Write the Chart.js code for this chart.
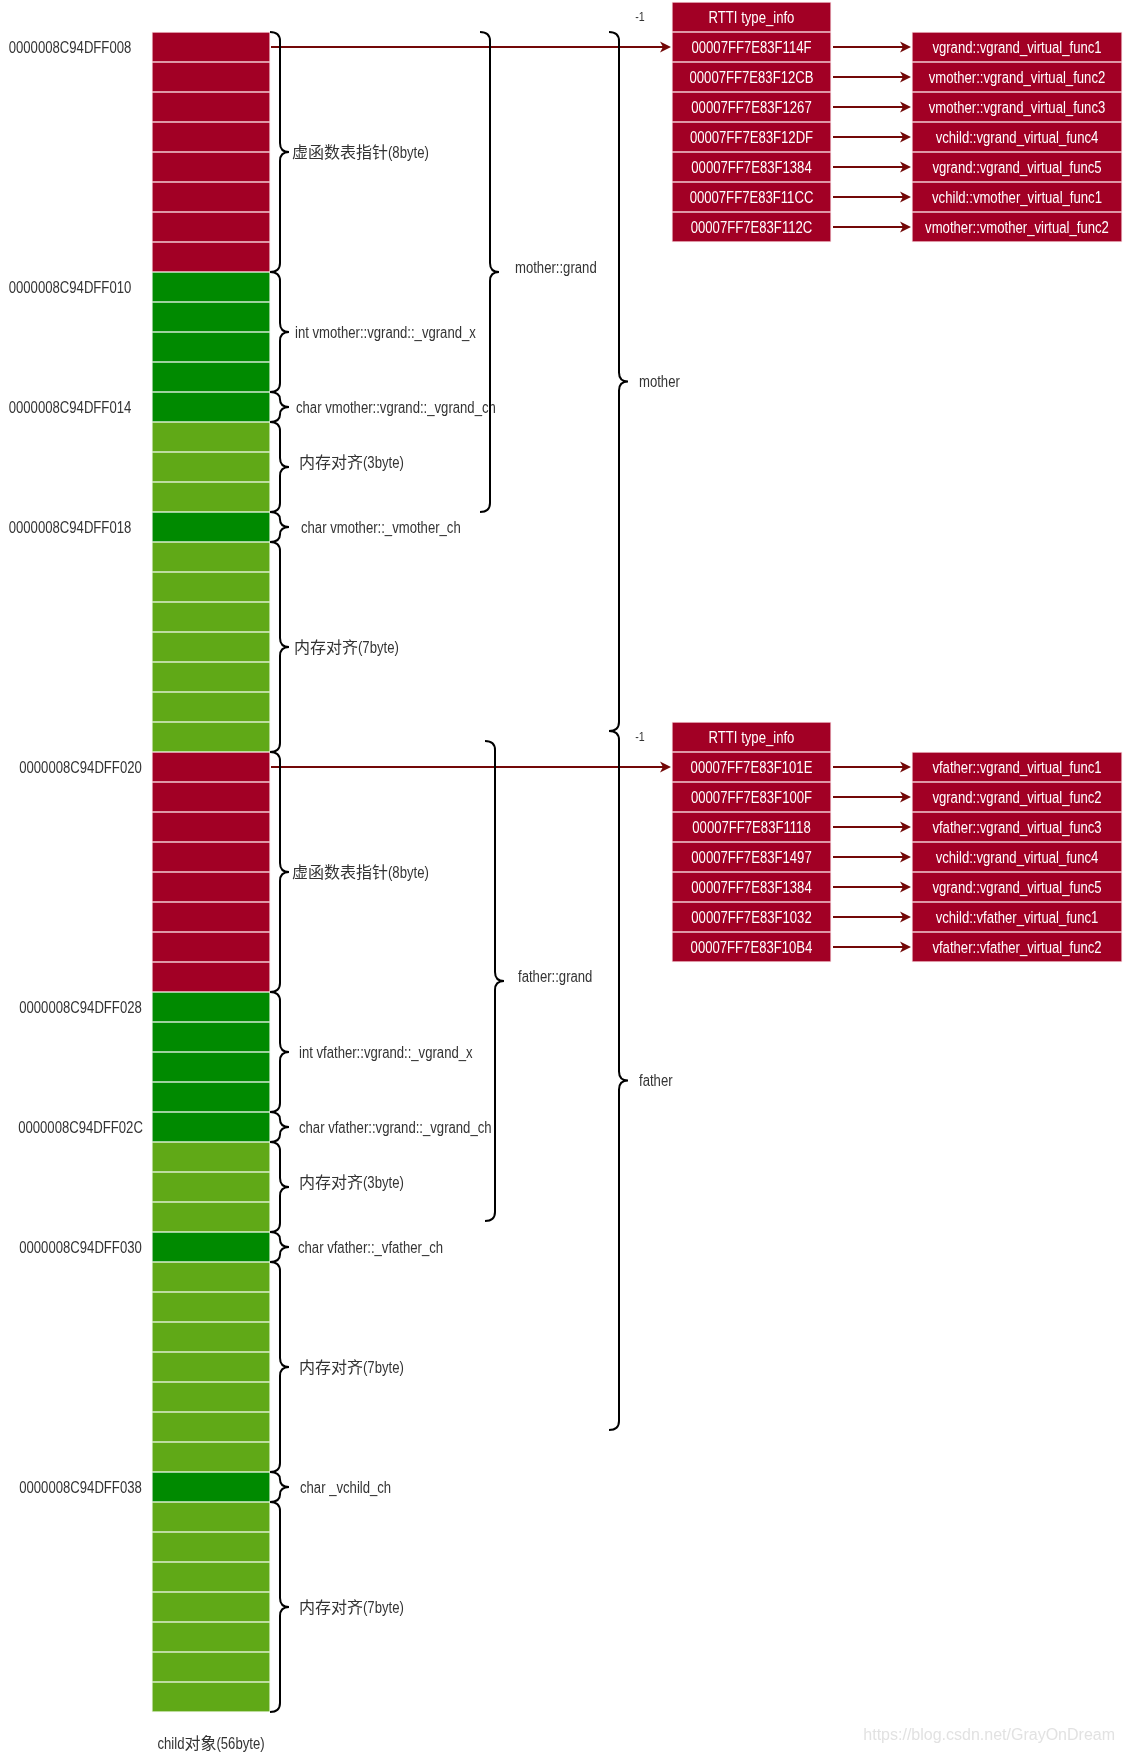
<!DOCTYPE html>
<html>
<head>
<meta charset="utf-8">
<script src="https://cdn.jsdelivr.net/npm/chart.js@4.4.1/dist/chart.umd.min.js"></script>
<style>
  html, body { margin: 0; padding: 0; background: #fff; }
  #wrap { width: 1124px; height: 1752px; }
</style>
</head>
<body>
<div id="wrap"><canvas id="layout" width="1124" height="1752"></canvas></div>
<script>
// ---- data ----
// members of the child object, top to bottom
const memberNames = [
  '虚函数表指针(8byte)', 'int vmother::vgrand::_vgrand_x', 'char vmother::vgrand::_vgrand_ch',
  '内存对齐(3byte)', 'char vmother::_vmother_ch', '内存对齐(7byte)',
  '虚函数表指针(8byte)', 'int vfather::vgrand::_vgrand_x', 'char vfather::vgrand::_vgrand_ch',
  '内存对齐(3byte)', 'char vfather::_vfather_ch', '内存对齐(7byte)',
  'char _vchild_ch', '内存对齐(7byte)'
];
const memberSizes = [8, 4, 1, 3, 1, 7, 8, 4, 1, 3, 1, 7, 1, 7];
const memberKinds = ['vptr', 'data', 'data', 'pad', 'data', 'pad',
                     'vptr', 'data', 'data', 'pad', 'data', 'pad', 'data', 'pad'];

const addrLabels = ['0000008C94DFF008', '0000008C94DFF010', '0000008C94DFF014', '0000008C94DFF018',
                    '0000008C94DFF020', '0000008C94DFF028', '0000008C94DFF02C', '0000008C94DFF030',
                    '0000008C94DFF038'];
const addrBytes = [0, 8, 12, 16, 24, 32, 36, 40, 48];

const motherSlots = ['00007FF7E83F114F', '00007FF7E83F12CB', '00007FF7E83F1267', '00007FF7E83F12DF',
                     '00007FF7E83F1384', '00007FF7E83F11CC', '00007FF7E83F112C'];
const motherFuncs = ['vgrand::vgrand_virtual_func1', 'vmother::vgrand_virtual_func2', 'vmother::vgrand_virtual_func3',
                     'vchild::vgrand_virtual_func4', 'vgrand::vgrand_virtual_func5', 'vchild::vmother_virtual_func1',
                     'vmother::vmother_virtual_func2'];
const fatherSlots = ['00007FF7E83F101E', '00007FF7E83F100F', '00007FF7E83F1118', '00007FF7E83F1497',
                     '00007FF7E83F1384', '00007FF7E83F1032', '00007FF7E83F10B4'];
const fatherFuncs = ['vfather::vgrand_virtual_func1', 'vgrand::vgrand_virtual_func2', 'vfather::vgrand_virtual_func3',
                     'vchild::vgrand_virtual_func4', 'vgrand::vgrand_virtual_func5', 'vchild::vfather_virtual_func1',
                     'vfather::vfather_virtual_func2'];
const vtableRow = [0, 24];      // byte offset of the vptr pointing at each table
const rttiLabel = 'RTTI type_info';
const rttiOffset = '-1';

// outer groupings (in byte units, as drawn)
const groupNames = ['mother::grand', 'father::grand', 'mother', 'father'];
const groupFrom = [0, 23.63, 0, 23.3];
const groupTo = [16, 39.63, 23.3, 46.6];

const objectLabel = 'child对象(56byte)';
const watermark = 'https://blog.csdn.net/GrayOnDream';

// ---- layout / style ----
const COL = [152, 270];
const SLOT = [672, 831];
const FUNC = [912, 1122];
const memberLabelX = [292, 295, 296, 299, 301, 294, 292, 299, 299, 299, 298, 299, 300, 299];
const memberLabelDy = [0, 0, 0, -5, 0, 0, 0, 0, 0, -5, 0, 0, 0, 0];
const groupBraceX = [480, 485, 609, 609];
const groupLabelX = [515, 518, 639, 639];
const groupLabelDy = [-5, -5, 0, 0];
const fills = { vptr: '#a20025', data: '#008a00', pad: '#60a917' };
const edges = { vptr: '#f1c9d1', data: '#cfe8cf', pad: '#dbeecb' };
const NARROW = 0.82;
const ARROW = '#730808';

const cellData = [], cellFill = [], cellEdge = [];
let off = 0;
memberSizes.forEach((n, i) => {
  for (let k = 0; k < n; k++) {
    cellData.push({ x: [COL[0], COL[1]], y: off + k + 0.5 });
    cellFill.push(fills[memberKinds[i]]);
    cellEdge.push(edges[memberKinds[i]]);
  }
  off += n;
});

const slotData = [], funcData = [];
[[motherSlots, motherFuncs], [fatherSlots, fatherFuncs]].forEach(([slots, funcs], t) => {
  const r0 = vtableRow[t];
  slotData.push({ x: [SLOT[0], SLOT[1]], y: r0 - 0.5, label: rttiLabel });
  slots.forEach((s, k) => slotData.push({ x: [SLOT[0], SLOT[1]], y: r0 + k + 0.5, label: s }));
  funcs.forEach((f, k) => funcData.push({ x: [FUNC[0], FUNC[1]], y: r0 + k + 0.5, label: f }));
});

// ---- text helpers: latin drawn narrow, CJK at full width ----
function splitRuns(text) {
  const out = [];
  for (const ch of text) {
    const cjk = /[\u3000-\u9fff\uff00-\uffef]/.test(ch);
    if (out.length && out[out.length - 1].cjk === cjk) out[out.length - 1].s += ch;
    else out.push({ s: ch, cjk: cjk });
  }
  return out;
}
function fontFor(run, size) {
  return run.cjk ? size + "px 'Noto Sans CJK SC', sans-serif" : size + "px 'Liberation Sans', Arial, sans-serif";
}
function drawText(ctx, text, x, y, size, color, align, squeeze) {
  const sx = squeeze === undefined ? NARROW : squeeze;
  const parts = splitRuns(text);
  const widths = parts.map(p => {
    ctx.font = fontFor(p, size);
    return ctx.measureText(p.s).width * (p.cjk ? 1 : sx);
  });
  const total = widths.reduce((a, b) => a + b, 0);
  let cx = align === 'center' ? x - total / 2 : (align === 'right' ? x - total : x);
  parts.forEach((p, i) => {
    ctx.save();
    ctx.font = fontFor(p, size);
    ctx.fillStyle = color;
    ctx.textBaseline = 'alphabetic';
    ctx.textAlign = 'left';
    ctx.translate(cx, y + size * 0.36);
    if (!p.cjk) ctx.scale(sx, 1);
    ctx.fillText(p.s, 0, 0);
    ctx.restore();
    cx += widths[i];
  });
}

function brace(ctx, x0, top, bot) {
  const xv = x0 + 10, xt = x0 + 19, mid = (top + bot) / 2;
  const r = Math.min(9, (bot - top) / 4);
  ctx.beginPath();
  ctx.moveTo(x0, top);
  ctx.quadraticCurveTo(xv, top, xv, top + r);
  ctx.lineTo(xv, mid - r);
  ctx.quadraticCurveTo(xv, mid, xt, mid);
  ctx.quadraticCurveTo(xv, mid, xv, mid + r);
  ctx.lineTo(xv, bot - r);
  ctx.quadraticCurveTo(xv, bot, x0, bot);
  ctx.stroke();
}

function arrow(ctx, x1, y, x2) {
  ctx.strokeStyle = ARROW;
  ctx.fillStyle = ARROW;
  ctx.lineWidth = 2;
  ctx.beginPath();
  ctx.moveTo(x1, y);
  ctx.lineTo(x2 - 8, y);
  ctx.stroke();
  ctx.beginPath();
  ctx.moveTo(x2, y);
  ctx.lineTo(x2 - 11, y - 5.5);
  ctx.lineTo(x2 - 8, y);
  ctx.lineTo(x2 - 11, y + 5.5);
  ctx.closePath();
  ctx.fill();
}

const diagram = {
  id: 'diagram',
  afterDatasetsDraw(chart) {
    const ctx = chart.ctx;
    const X = v => chart.scales.x.getPixelForValue(v);
    const Y = v => chart.scales.y.getPixelForValue(v);
    ctx.save();

    // pointers from vptr cells into the tables
    vtableRow.forEach(r => arrow(ctx, X(COL[1]) + 1, Y(r + 0.5), X(SLOT[0]) - 1));
    // table slot -> function
    funcData.forEach(d => arrow(ctx, X(SLOT[1]) + 2, Y(d.y), X(FUNC[0]) - 1));

    // braces
    let b = 0;
    memberSizes.forEach((n, i) => {
      ctx.strokeStyle = '#000';
      ctx.lineWidth = 2;
      brace(ctx, X(COL[1]), Y(b), Y(b + n));
      drawText(ctx, memberNames[i], X(memberLabelX[i]), Y(b + n / 2) + memberLabelDy[i], 16, '#333', 'left');
      b += n;
    });
    groupNames.forEach((g, i) => {
      ctx.strokeStyle = '#000';
      ctx.lineWidth = 2;
      brace(ctx, X(groupBraceX[i]), Y(groupFrom[i]), Y(groupTo[i]));
      drawText(ctx, g, X(groupLabelX[i]), Y((groupFrom[i] + groupTo[i]) / 2) + groupLabelDy[i], 16, '#333', 'left');
    });

    // addresses
    addrLabels.forEach((a, i) => {
      const cx = addrBytes[i] < 24 ? 70 : 80.5;
      drawText(ctx, a, X(cx), Y(addrBytes[i] + 0.5), 16, '#333', 'center');
    });

    // -1 offsets of RTTI
    vtableRow.forEach(r => drawText(ctx, rttiOffset, X(640), Y(r - 0.5) - 1, 13, '#333', 'center'));

    // box texts
    [1, 2].forEach(di => {
      const ds = chart.data.datasets[di];
      chart.getDatasetMeta(di).data.forEach((el, j) => {
        drawText(ctx, ds.data[j].label, (el.x + el.base) / 2, el.y, 16, '#fff', 'center');
      });
    });

    drawText(ctx, objectLabel, X((COL[0] + COL[1]) / 2), Y(57) + 1, 16, '#333', 'center');
    drawText(ctx, watermark, chart.chartArea.right - 9, chart.chartArea.bottom - 18, 16, '#e2e2e2', 'right', 1);
    ctx.restore();
  }
};

new Chart(document.getElementById('layout'), {
  type: 'bar',
  data: {
    datasets: [
      { data: cellData, backgroundColor: cellFill, borderColor: cellEdge },
      { data: slotData, backgroundColor: '#a20025', borderColor: '#f1c9d1' },
      { data: funcData, backgroundColor: '#a20025', borderColor: '#f1c9d1' }
    ]
  },
  options: {
    indexAxis: 'y',
    responsive: false,
    animation: false,
    events: [],
    layout: { padding: 0 },
    datasets: {
      bar: { grouped: false, barPercentage: 1, categoryPercentage: 1, borderWidth: 1, borderSkipped: false }
    },
    plugins: { legend: { display: false }, tooltip: { enabled: false } },
    scales: {
      x: { type: 'linear', min: 0, max: 1124, offset: false, display: false },
      y: { type: 'linear', min: -32 / 30, max: 1720 / 30, reverse: true, offset: false, display: false,
           ticks: { stepSize: 1 } }
    }
  },
  plugins: [diagram]
});
</script>
</body>
</html>
